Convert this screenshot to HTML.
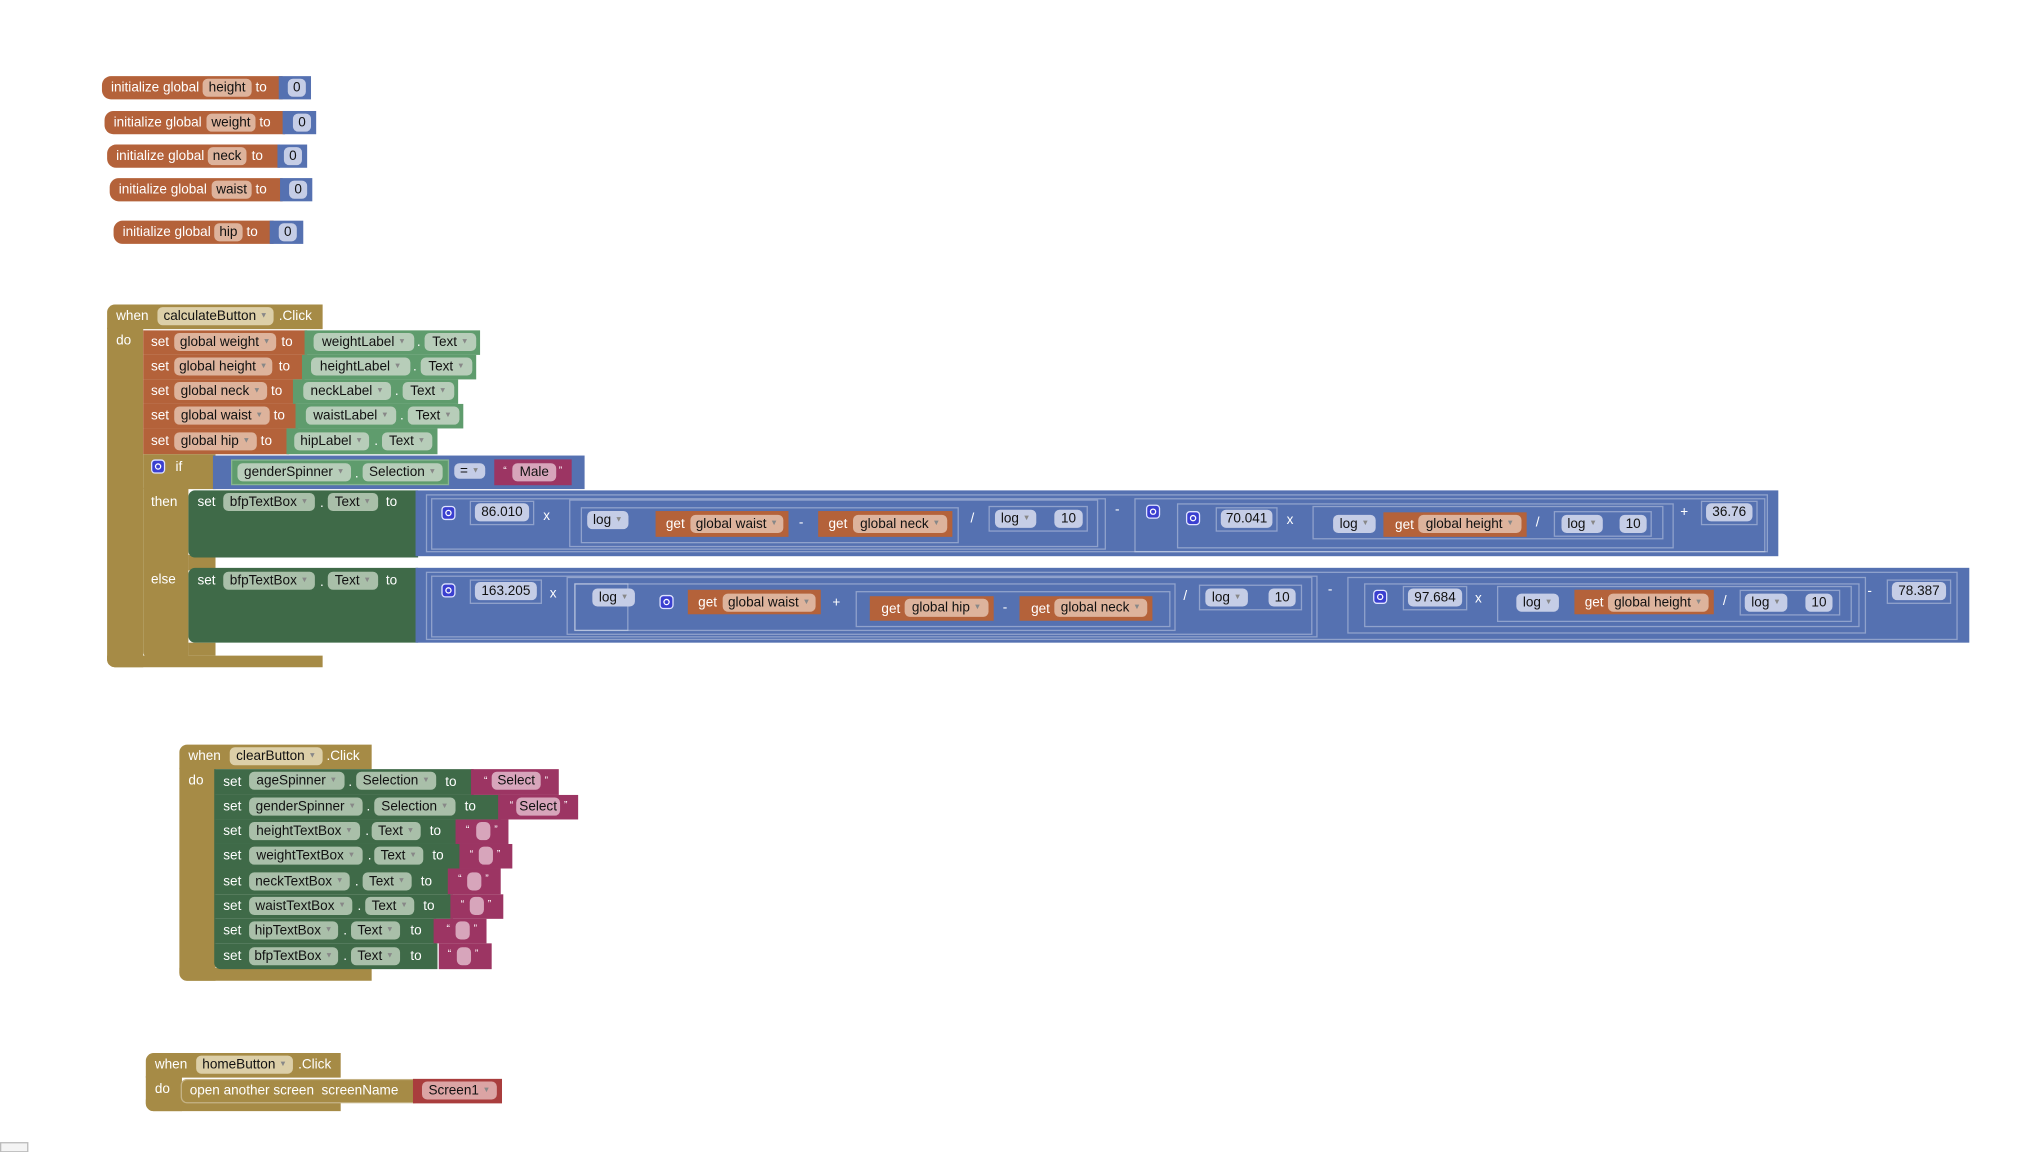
<!DOCTYPE html>
<html><head><meta charset="utf-8">
<style>
html,body{margin:0;padding:0;background:#fff;width:2020px;height:1152px;overflow:hidden}
#w{position:absolute;left:0;top:0;width:1560px;height:890px;transform:scale(1.2905);transform-origin:0 0;font-family:"Liberation Sans",Arial,sans-serif}
.a{position:absolute;box-sizing:border-box}
.t{position:absolute;color:#fff;font-size:10.5px;line-height:11px;white-space:nowrap}
.p{position:absolute;border-radius:4px;font-size:10.5px;line-height:14px;height:14px;color:#111;text-align:center;white-space:nowrap;box-sizing:border-box}
.p span{color:#888;font-size:6px!important;vertical-align:2px}
.o{background:#b4623a}.op{background:#ddb39c}
.b{background:#5571b1}.bp{background:#c5cde6}
.g{background:#a68b46}.gp{background:#dccfa8}
.d{background:#3f6a48}.dp{background:#a9bfa9}
.c{background:#5f9c6d}.cp{background:#b7cdb9}
.k{background:#9c3563}.kp{background:#d7a5bb}
.bx{position:absolute;border:1px solid rgba(255,255,255,.35);box-sizing:border-box}
.gear{position:absolute;width:11px;height:11px;background:#3a3fd0;border:1px solid #dfe3ff;border-radius:3px;box-sizing:border-box}
.gear:after{content:"";position:absolute;left:2px;top:2px;width:5px;height:5px;border:1px solid #fff;border-radius:50%;box-sizing:border-box}
</style></head><body><div id="w">

<!-- init globals -->
<div class="a o" style="left:79px;top:59px;width:140px;height:18px;border-radius:7px 0 0 7px"></div>
<div class="t" style="left:86px;top:63px">initialize global</div>
<div class="p op" style="left:157px;top:61px;width:38px">height</div>
<div class="t" style="left:198px;top:63px">to</div>
<div class="a b" style="left:216px;top:59px;width:25px;height:18px"></div>
<div class="p bp" style="left:223px;top:61px;width:14px">0</div>

<div class="a o" style="left:81px;top:86px;width:140px;height:18px;border-radius:7px 0 0 7px"></div>
<div class="t" style="left:88px;top:90px">initialize global</div>
<div class="p op" style="left:160px;top:88px;width:38px">weight</div>
<div class="t" style="left:201px;top:90px">to</div>
<div class="a b" style="left:219px;top:86px;width:26px;height:18px"></div>
<div class="p bp" style="left:227px;top:88px;width:14px">0</div>

<div class="a o" style="left:83px;top:112px;width:134px;height:18px;border-radius:7px 0 0 7px"></div>
<div class="t" style="left:90px;top:116px">initialize global</div>
<div class="p op" style="left:161px;top:114px;width:30px">neck</div>
<div class="t" style="left:195px;top:116px">to</div>
<div class="a b" style="left:215px;top:112px;width:23px;height:18px"></div>
<div class="p bp" style="left:220px;top:114px;width:14px">0</div>

<div class="a o" style="left:85px;top:138px;width:134px;height:18px;border-radius:7px 0 0 7px"></div>
<div class="t" style="left:92px;top:142px">initialize global</div>
<div class="p op" style="left:164px;top:140px;width:31px">waist</div>
<div class="t" style="left:198px;top:142px">to</div>
<div class="a b" style="left:217px;top:138px;width:25px;height:18px"></div>
<div class="p bp" style="left:224px;top:140px;width:14px">0</div>

<div class="a o" style="left:88px;top:171px;width:124px;height:18px;border-radius:7px 0 0 7px"></div>
<div class="t" style="left:95px;top:175px">initialize global</div>
<div class="p op" style="left:166px;top:173px;width:22px">hip</div>
<div class="t" style="left:191px;top:175px">to</div>
<div class="a b" style="left:209px;top:171px;width:26px;height:18px"></div>
<div class="p bp" style="left:216px;top:173px;width:14px">0</div>

<!-- calculate event -->
<div class="a g" style="left:83px;top:236px;width:167px;height:19px;border-radius:6px 0 0 0"></div>
<div class="a g" style="left:83px;top:254px;width:28px;height:263px;border-radius:0 0 0 6px"></div>
<div class="a g" style="left:83px;top:508px;width:167px;height:9px;border-radius:0 0 0 6px"></div>
<div class="t" style="left:90px;top:240px">when</div>
<div class="p gp" style="left:122px;top:238px;width:90px">calculateButton <span>▼</span></div>
<div class="t" style="left:216px;top:240px">.Click</div>
<div class="t" style="left:90px;top:259px">do</div>

<div class="a o" style="left:111px;top:256px;width:127px;height:19px"></div>
<div class="t" style="left:117px;top:260px">set</div>
<div class="p op" style="left:135px;top:258px;width:79px">global weight <span>▼</span></div>
<div class="t" style="left:218px;top:260px">to</div>
<div class="a c" style="left:236px;top:256px;width:136px;height:19px"></div>
<div class="p cp" style="left:243px;top:258px;width:78px">weightLabel <span>▼</span></div>
<div class="t" style="left:323px;top:260px">.</div>
<div class="p cp" style="left:329px;top:258px;width:40px">Text <span>▼</span></div>

<div class="a o" style="left:111px;top:275px;width:125px;height:19px"></div>
<div class="t" style="left:117px;top:279px">set</div>
<div class="p op" style="left:135px;top:277px;width:76px">global height <span>▼</span></div>
<div class="t" style="left:216px;top:279px">to</div>
<div class="a c" style="left:234px;top:275px;width:135px;height:19px"></div>
<div class="p cp" style="left:241px;top:277px;width:77px">heightLabel <span>▼</span></div>
<div class="t" style="left:320px;top:279px">.</div>
<div class="p cp" style="left:326px;top:277px;width:40px">Text <span>▼</span></div>

<div class="a o" style="left:111px;top:294px;width:118px;height:19px"></div>
<div class="t" style="left:117px;top:298px">set</div>
<div class="p op" style="left:135px;top:296px;width:72px">global neck <span>▼</span></div>
<div class="t" style="left:210px;top:298px">to</div>
<div class="a c" style="left:227px;top:294px;width:128px;height:19px"></div>
<div class="p cp" style="left:235px;top:296px;width:68px">neckLabel <span>▼</span></div>
<div class="t" style="left:306px;top:298px">.</div>
<div class="p cp" style="left:312px;top:296px;width:40px">Text <span>▼</span></div>

<div class="a o" style="left:111px;top:313px;width:120px;height:19px"></div>
<div class="t" style="left:117px;top:317px">set</div>
<div class="p op" style="left:135px;top:315px;width:74px">global waist <span>▼</span></div>
<div class="t" style="left:212px;top:317px">to</div>
<div class="a c" style="left:229px;top:313px;width:130px;height:19px"></div>
<div class="p cp" style="left:237px;top:315px;width:70px">waistLabel <span>▼</span></div>
<div class="t" style="left:310px;top:317px">.</div>
<div class="p cp" style="left:316px;top:315px;width:40px">Text <span>▼</span></div>

<div class="a o" style="left:111px;top:332px;width:113px;height:20px"></div>
<div class="t" style="left:117px;top:337px">set</div>
<div class="p op" style="left:135px;top:335px;width:64px">global hip <span>▼</span></div>
<div class="t" style="left:202px;top:337px">to</div>
<div class="a c" style="left:222px;top:332px;width:117px;height:20px"></div>
<div class="p cp" style="left:228px;top:335px;width:58px">hipLabel <span>▼</span></div>
<div class="t" style="left:290px;top:337px">.</div>
<div class="p cp" style="left:296px;top:335px;width:39px">Text <span>▼</span></div>

<!-- if block -->
<div class="a g" style="left:111px;top:352px;width:56px;height:27px"></div>
<div class="a g" style="left:111px;top:378px;width:35px;height:132px;border-radius:0 0 0 5px"></div>
<div class="a g" style="left:146px;top:430px;width:21px;height:12px"></div>
<div class="a g" style="left:146px;top:498px;width:21px;height:10px"></div>
<div class="gear" style="left:117px;top:356px"></div>
<div class="t" style="left:136px;top:357px">if</div>
<div class="t" style="left:117px;top:384px">then</div>
<div class="t" style="left:117px;top:444px">else</div>
<div class="a b" style="left:165px;top:353px;width:288px;height:26px"></div>
<div class="a c" style="left:179px;top:356px;width:169px;height:20px;border:1px solid rgba(255,255,255,.25)"></div>
<div class="p cp" style="left:184px;top:359px;width:88px">genderSpinner <span>▼</span></div>
<div class="t" style="left:275px;top:362px">.</div>
<div class="p cp" style="left:281px;top:359px;width:62px">Selection <span>▼</span></div>
<div class="p bp" style="left:352px;top:359px;width:24px;height:12px;line-height:12px">= <span>▼</span></div>
<div class="a k" style="left:383px;top:356px;width:60px;height:20px"></div>
<div class="t" style="left:390px;top:359px;font-size:8px">“</div>
<div class="p kp" style="left:397px;top:359px;width:34px">Male</div>
<div class="t" style="left:433px;top:359px;font-size:8px">”</div>

<!-- then set -->
<div class="a d" style="left:146px;top:380px;width:178px;height:52px;border-radius:5px 0 0 5px"></div>
<div class="t" style="left:153px;top:384px">set</div>
<div class="p dp" style="left:173px;top:382px;width:71px">bfpTextBox <span>▼</span></div>
<div class="t" style="left:248px;top:385px">.</div>
<div class="p dp" style="left:254px;top:382px;width:39px">Text <span>▼</span></div>
<div class="t" style="left:299px;top:384px">to</div>
<div class="a b" style="left:322px;top:380px;width:1056px;height:51px"></div>
<div class="bx" style="left:330px;top:383px;width:1040px;height:45px"></div>
<div class="bx" style="left:334px;top:386px;width:523px;height:40px"></div>
<div class="gear" style="left:342px;top:392px"></div>
<div class="bx" style="left:364px;top:388px;width:50px;height:19px"></div>
<div class="p bp" style="left:368px;top:390px;width:42px">86.010</div>
<div class="t" style="left:421px;top:395px">x</div>
<div class="bx" style="left:441px;top:387px;width:410px;height:37px"></div>
<div class="bx" style="left:450px;top:393px;width:293px;height:28px"></div>
<div class="p bp" style="left:455px;top:396px;width:32px">log <span>▼</span></div>
<div class="a o" style="left:508px;top:396px;width:103px;height:20px"></div>
<div class="t" style="left:516px;top:401px">get</div>
<div class="p op" style="left:535px;top:399px;width:72px">global waist <span>▼</span></div>
<div class="t" style="left:619px;top:400px">-</div>
<div class="a o" style="left:634px;top:396px;width:104px;height:20px"></div>
<div class="t" style="left:642px;top:401px">get</div>
<div class="p op" style="left:661px;top:399px;width:73px">global neck <span>▼</span></div>
<div class="t" style="left:752px;top:397px">/</div>
<div class="bx" style="left:766px;top:392px;width:77px;height:20px"></div>
<div class="p bp" style="left:771px;top:395px;width:32px">log <span>▼</span></div>
<div class="p bp" style="left:817px;top:395px;width:22px">10</div>
<div class="t" style="left:864px;top:390px">-</div>
<div class="bx" style="left:879px;top:386px;width:489px;height:42px"></div>
<div class="gear" style="left:888px;top:391px"></div>
<div class="bx" style="left:912px;top:390px;width:385px;height:35px"></div>
<div class="gear" style="left:919px;top:396px"></div>
<div class="bx" style="left:942px;top:393px;width:48px;height:19px"></div>
<div class="p bp" style="left:946px;top:395px;width:40px">70.041</div>
<div class="t" style="left:997px;top:398px">x</div>
<div class="bx" style="left:1017px;top:392px;width:272px;height:26px"></div>
<div class="p bp" style="left:1033px;top:399px;width:33px">log <span>▼</span></div>
<div class="a o" style="left:1072px;top:397px;width:111px;height:19px"></div>
<div class="t" style="left:1081px;top:402px">get</div>
<div class="p op" style="left:1099px;top:399px;width:80px">global height <span>▼</span></div>
<div class="t" style="left:1190px;top:400px">/</div>
<div class="bx" style="left:1204px;top:396px;width:76px;height:20px"></div>
<div class="p bp" style="left:1210px;top:399px;width:32px">log <span>▼</span></div>
<div class="p bp" style="left:1255px;top:399px;width:21px">10</div>
<div class="t" style="left:1302px;top:392px">+</div>
<div class="bx" style="left:1318px;top:388px;width:44px;height:19px"></div>
<div class="p bp" style="left:1322px;top:390px;width:36px">36.76</div>

<!-- else set -->
<div class="a d" style="left:146px;top:440px;width:178px;height:58px;border-radius:5px 0 0 5px"></div>
<div class="t" style="left:153px;top:445px">set</div>
<div class="p dp" style="left:173px;top:443px;width:71px">bfpTextBox <span>▼</span></div>
<div class="t" style="left:248px;top:446px">.</div>
<div class="p dp" style="left:254px;top:443px;width:39px">Text <span>▼</span></div>
<div class="t" style="left:299px;top:445px">to</div>
<div class="a b" style="left:322px;top:440px;width:1204px;height:58px"></div>
<div class="bx" style="left:330px;top:443px;width:1187px;height:53px"></div>
<div class="bx" style="left:334px;top:446px;width:687px;height:48px"></div>
<div class="gear" style="left:342px;top:452px"></div>
<div class="bx" style="left:364px;top:449px;width:56px;height:19px"></div>
<div class="p bp" style="left:368px;top:451px;width:48px">163.205</div>
<div class="t" style="left:426px;top:455px">x</div>
<div class="bx" style="left:439px;top:447px;width:578px;height:45px"></div>
<div class="bx" style="left:445px;top:452px;width:466px;height:37px"></div>
<div class="bx" style="left:445px;top:452px;width:42px;height:37px"></div>
<div class="p bp" style="left:459px;top:456px;width:33px">log <span>▼</span></div>
<div class="gear" style="left:511px;top:461px"></div>
<div class="a o" style="left:533px;top:457px;width:103px;height:19px"></div>
<div class="t" style="left:541px;top:462px">get</div>
<div class="p op" style="left:560px;top:460px;width:72px">global waist <span>▼</span></div>
<div class="t" style="left:645px;top:462px">+</div>
<div class="bx" style="left:663px;top:458px;width:244px;height:28px"></div>
<div class="a o" style="left:674px;top:462px;width:96px;height:19px"></div>
<div class="t" style="left:683px;top:467px">get</div>
<div class="p op" style="left:701px;top:464px;width:65px">global hip <span>▼</span></div>
<div class="t" style="left:777px;top:466px">-</div>
<div class="a o" style="left:790px;top:462px;width:103px;height:19px"></div>
<div class="t" style="left:799px;top:467px">get</div>
<div class="p op" style="left:817px;top:464px;width:72px">global neck <span>▼</span></div>
<div class="t" style="left:917px;top:457px">/</div>
<div class="bx" style="left:929px;top:453px;width:80px;height:20px"></div>
<div class="p bp" style="left:934px;top:456px;width:33px">log <span>▼</span></div>
<div class="p bp" style="left:983px;top:456px;width:21px">10</div>
<div class="t" style="left:1029px;top:452px">-</div>
<div class="bx" style="left:1044px;top:447px;width:402px;height:44px"></div>
<div class="bx" style="left:1057px;top:452px;width:384px;height:34px"></div>
<div class="gear" style="left:1064px;top:457px"></div>
<div class="bx" style="left:1087px;top:454px;width:50px;height:19px"></div>
<div class="p bp" style="left:1091px;top:456px;width:42px">97.684</div>
<div class="t" style="left:1143px;top:459px">x</div>
<div class="bx" style="left:1160px;top:454px;width:275px;height:28px"></div>
<div class="p bp" style="left:1175px;top:460px;width:33px">log <span>▼</span></div>
<div class="a o" style="left:1220px;top:457px;width:108px;height:19px"></div>
<div class="t" style="left:1228px;top:462px">get</div>
<div class="p op" style="left:1246px;top:460px;width:78px">global height <span>▼</span></div>
<div class="t" style="left:1335px;top:461px">/</div>
<div class="bx" style="left:1348px;top:457px;width:78px;height:20px"></div>
<div class="p bp" style="left:1352px;top:460px;width:33px">log <span>▼</span></div>
<div class="p bp" style="left:1399px;top:460px;width:21px">10</div>
<div class="t" style="left:1447px;top:453px">-</div>
<div class="bx" style="left:1462px;top:449px;width:50px;height:19px"></div>
<div class="p bp" style="left:1466px;top:451px;width:42px">78.387</div>

<!-- clear event -->
<div class="a g" style="left:139px;top:577px;width:149px;height:19px;border-radius:6px 0 0 0"></div>
<div class="a g" style="left:139px;top:595px;width:28px;height:165px;border-radius:0 0 0 6px"></div>
<div class="a g" style="left:139px;top:750px;width:149px;height:10px;border-radius:0 0 0 6px"></div>
<div class="t" style="left:146px;top:581px">when</div>
<div class="p gp" style="left:178px;top:579px;width:72px">clearButton <span>▼</span></div>
<div class="t" style="left:253px;top:581px">.Click</div>
<div class="t" style="left:146px;top:600px">do</div>

<div class="a d" style="left:166px;top:596px;width:201px;height:20px"></div>
<div class="t" style="left:173px;top:601px">set</div>
<div class="p dp" style="left:193px;top:598px;width:74px">ageSpinner <span>▼</span></div>
<div class="t" style="left:270px;top:601px">.</div>
<div class="p dp" style="left:276px;top:598px;width:62px">Selection <span>▼</span></div>
<div class="t" style="left:345px;top:601px">to</div>
<div class="a k" style="left:365px;top:596px;width:68px;height:20px"></div>
<div class="t" style="left:375px;top:599px;font-size:8px">“</div>
<div class="p kp" style="left:381px;top:598px;width:38px">Select</div>
<div class="t" style="left:422px;top:599px;font-size:8px">”</div>

<div class="a d" style="left:166px;top:616px;width:222px;height:19px"></div>
<div class="t" style="left:173px;top:620px">set</div>
<div class="p dp" style="left:193px;top:618px;width:88px">genderSpinner <span>▼</span></div>
<div class="t" style="left:284px;top:620px">.</div>
<div class="p dp" style="left:290px;top:618px;width:63px">Selection <span>▼</span></div>
<div class="t" style="left:360px;top:620px">to</div>
<div class="a k" style="left:386px;top:616px;width:62px;height:19px"></div>
<div class="t" style="left:395px;top:618px;font-size:8px">“</div>
<div class="p kp" style="left:400px;top:618px;width:34px">Select</div>
<div class="t" style="left:437px;top:618px;font-size:8px">”</div>

<div class="a d" style="left:166px;top:635px;width:189px;height:19px"></div>
<div class="t" style="left:173px;top:639px">set</div>
<div class="p dp" style="left:193px;top:637px;width:86px">heightTextBox <span>▼</span></div>
<div class="t" style="left:283px;top:639px">.</div>
<div class="p dp" style="left:288px;top:637px;width:38px">Text <span>▼</span></div>
<div class="t" style="left:333px;top:639px">to</div>
<div class="a k" style="left:353px;top:635px;width:41px;height:19px"></div>
<div class="t" style="left:361px;top:637px;font-size:8px">“</div>
<div class="p kp" style="left:369px;top:637px;width:11px"></div>
<div class="t" style="left:383px;top:637px;font-size:8px">”</div>

<div class="a d" style="left:166px;top:654px;width:192px;height:19px"></div>
<div class="t" style="left:173px;top:658px">set</div>
<div class="p dp" style="left:193px;top:656px;width:88px">weightTextBox <span>▼</span></div>
<div class="t" style="left:285px;top:658px">.</div>
<div class="p dp" style="left:290px;top:656px;width:38px">Text <span>▼</span></div>
<div class="t" style="left:335px;top:658px">to</div>
<div class="a k" style="left:356px;top:654px;width:41px;height:19px"></div>
<div class="t" style="left:364px;top:656px;font-size:8px">“</div>
<div class="p kp" style="left:371px;top:656px;width:11px"></div>
<div class="t" style="left:385px;top:656px;font-size:8px">”</div>

<div class="a d" style="left:166px;top:673px;width:183px;height:20px"></div>
<div class="t" style="left:173px;top:678px">set</div>
<div class="p dp" style="left:193px;top:676px;width:78px">neckTextBox <span>▼</span></div>
<div class="t" style="left:275px;top:678px">.</div>
<div class="p dp" style="left:281px;top:676px;width:38px">Text <span>▼</span></div>
<div class="t" style="left:326px;top:678px">to</div>
<div class="a k" style="left:347px;top:673px;width:41px;height:20px"></div>
<div class="t" style="left:355px;top:675px;font-size:8px">“</div>
<div class="p kp" style="left:362px;top:676px;width:11px"></div>
<div class="t" style="left:376px;top:675px;font-size:8px">”</div>

<div class="a d" style="left:166px;top:693px;width:185px;height:19px"></div>
<div class="t" style="left:173px;top:697px">set</div>
<div class="p dp" style="left:193px;top:695px;width:80px">waistTextBox <span>▼</span></div>
<div class="t" style="left:277px;top:697px">.</div>
<div class="p dp" style="left:283px;top:695px;width:38px">Text <span>▼</span></div>
<div class="t" style="left:328px;top:697px">to</div>
<div class="a k" style="left:349px;top:693px;width:41px;height:19px"></div>
<div class="t" style="left:357px;top:695px;font-size:8px">“</div>
<div class="p kp" style="left:364px;top:695px;width:11px"></div>
<div class="t" style="left:378px;top:695px;font-size:8px">”</div>

<div class="a d" style="left:166px;top:712px;width:172px;height:19px"></div>
<div class="t" style="left:173px;top:716px">set</div>
<div class="p dp" style="left:193px;top:714px;width:69px">hipTextBox <span>▼</span></div>
<div class="t" style="left:266px;top:716px">.</div>
<div class="p dp" style="left:272px;top:714px;width:38px">Text <span>▼</span></div>
<div class="t" style="left:318px;top:716px">to</div>
<div class="a k" style="left:336px;top:712px;width:41px;height:19px"></div>
<div class="t" style="left:346px;top:714px;font-size:8px">“</div>
<div class="p kp" style="left:353px;top:714px;width:11px"></div>
<div class="t" style="left:367px;top:714px;font-size:8px">”</div>

<div class="a d" style="left:166px;top:731px;width:173px;height:20px;border-radius:0 0 0 5px"></div>
<div class="t" style="left:173px;top:736px">set</div>
<div class="p dp" style="left:193px;top:734px;width:69px">bfpTextBox <span>▼</span></div>
<div class="t" style="left:266px;top:736px">.</div>
<div class="p dp" style="left:272px;top:734px;width:38px">Text <span>▼</span></div>
<div class="t" style="left:318px;top:736px">to</div>
<div class="a k" style="left:340px;top:731px;width:41px;height:20px"></div>
<div class="t" style="left:347px;top:733px;font-size:8px">“</div>
<div class="p kp" style="left:354px;top:734px;width:11px"></div>
<div class="t" style="left:368px;top:733px;font-size:8px">”</div>

<!-- home event -->
<div class="a g" style="left:113px;top:816px;width:151px;height:19px;border-radius:6px 0 0 0"></div>
<div class="a g" style="left:113px;top:834px;width:28px;height:27px;border-radius:0 0 0 6px"></div>
<div class="a g" style="left:113px;top:852px;width:151px;height:9px;border-radius:0 0 0 6px"></div>
<div class="t" style="left:120px;top:820px">when</div>
<div class="p gp" style="left:152px;top:818px;width:75px">homeButton <span>▼</span></div>
<div class="t" style="left:231px;top:820px">.Click</div>
<div class="t" style="left:120px;top:839px">do</div>
<div class="a g" style="left:140px;top:836px;width:182px;height:19px;border:1px solid rgba(255,255,255,.35);border-radius:5px 0 0 5px"></div>
<div class="t" style="left:147px;top:840px">open another screen&nbsp; screenName</div>
<div class="a" style="left:320px;top:836px;width:69px;height:19px;background:#a93d3d"></div>
<div class="p" style="left:327px;top:838px;width:58px;background:#dba4a4">Screen1 <span>▼</span></div>

<div class="a" style="left:0;top:885px;width:22px;height:8px;border:1px solid #bbb;background:#f4f4f4"></div>
</div></body></html>
